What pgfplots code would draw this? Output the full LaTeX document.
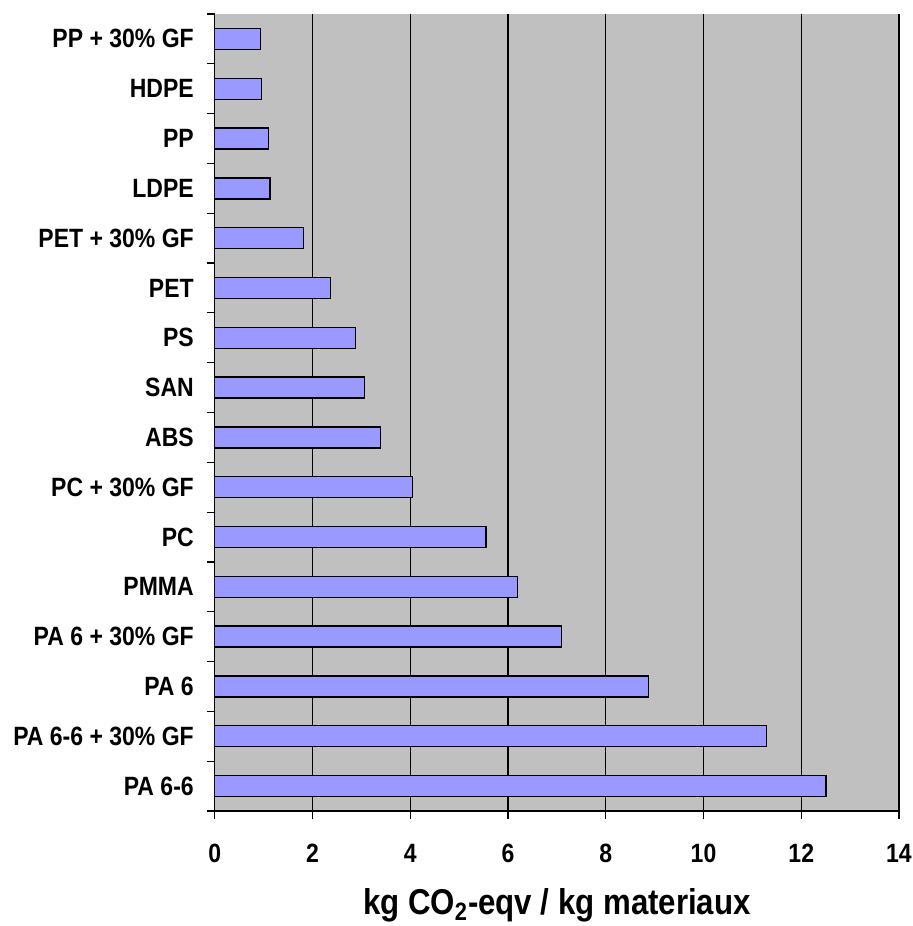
\documentclass[border=0pt]{standalone}
\usepackage{pgfplots}
\pgfplotsset{compat=1.18}
\usepackage{graphicx}
\usepackage{fontspec}
\setmainfont{Liberation Sans}
\definecolor{plotbg}{HTML}{C0C0C0}
\definecolor{barfill}{HTML}{9999FF}
\newcommand\st[1]{\scalebox{1}[1.15]{#1}}
\begin{document}
\begin{tikzpicture}[font=\bfseries]
  \begin{axis}[
      at={(0,0)}, anchor=south west,
      scale only axis,
      width=342.1pt, height=398.5pt,
      xbar, bar shift=0pt, bar width=10.5pt,
      xmin=0, xmax=14,
      ymin=-0.5, ymax=15.5,
      axis x line=bottom, axis y line=left,
      axis line style={-, line width=0.6pt},
      axis background/.style={fill=plotbg},
      tick align=outside,
      major tick length=4pt,
      tick style={black, line width=0.6pt},
      xtick={0,2,...,14},
      xmajorgrids,
      grid style={black, line width=0.6pt},
      /pgf/number format/assume math mode=true,
      xticklabel={\st{\pgfmathprintnumber{\tick}}},
      xticklabel style={font=\fontsize{11.5}{13}\bfseries, yshift=-9pt},
      ytick={-0.5,0.5,...,15.5},
      yticklabels={},
      extra y ticks={0,...,15},
      extra y tick labels={\st{PA 6-6},\st{PA 6-6 + 30\% GF},\st{PA 6},\st{PA 6 + 30\% GF},\st{PMMA},\st{PC},\st{PC + 30\% GF},\st{ABS},\st{SAN},\st{PS},\st{PET},\st{PET + 30\% GF},\st{LDPE},\st{PP},\st{HDPE},\st{PP + 30\% GF}},
      extra y tick style={major tick length=0pt, yticklabel style={font=\fontsize{11.5}{13}\bfseries, xshift=-7pt}},
      xlabel={\st{kg CO\textsubscript{2}-eqv / kg materiaux}},
      xlabel style={font=\fontsize{15.6}{18}\bfseries, at={(axis description cs:0.5,0)}, anchor=center, yshift=-47pt},
    ]
    \addplot[fill=barfill, draw=black, line width=0.7pt] coordinates {
      (12.51,0) (11.29,1) (8.87,2) (7.09,3) (6.19,4) (5.55,5) (4.04,6) (3.39,7)
      (3.06,8) (2.88,9) (2.37,10) (1.81,11) (1.13,12) (1.10,13) (0.95,14) (0.93,15)
    };
  \end{axis}
  \pgfresetboundingbox
  \path (-107.4pt,-57.5pt) rectangle (348.6pt,405.5pt);
\end{tikzpicture}
\end{document}
